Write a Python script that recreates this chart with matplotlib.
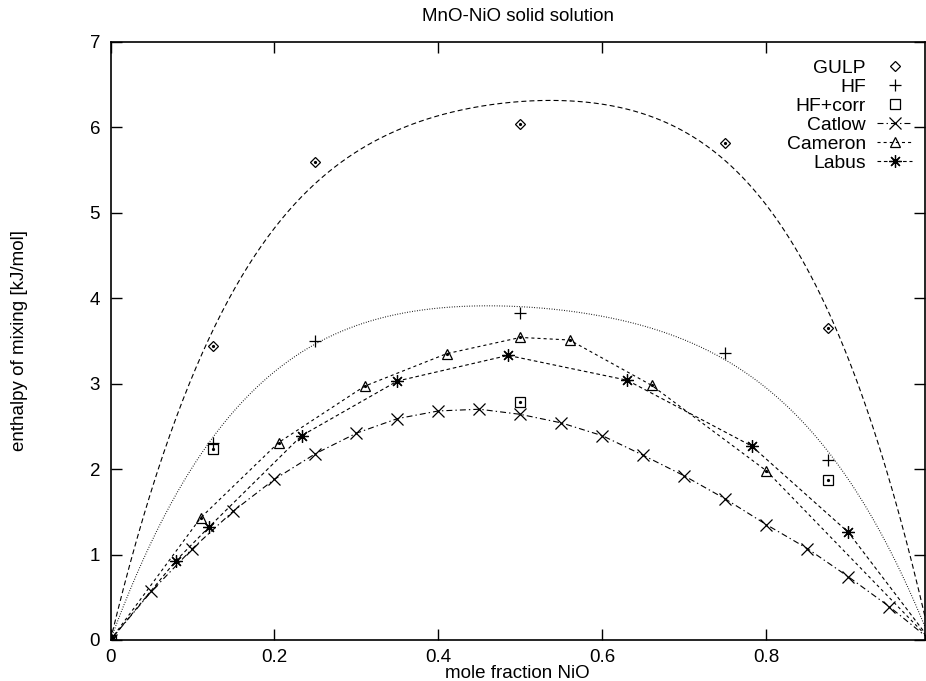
import numpy as np
import matplotlib
matplotlib.use("Agg")
import matplotlib.pyplot as plt

plt.rcParams["font.family"] = ["Liberation Sans", "DejaVu Sans"]
plt.rcParams["lines.scale_dashes"] = False

# Calculated enthalpies of mixing (kJ/mol) vs mole fraction NiO
gulp_x = [0.0, 0.125, 0.25, 0.5, 0.75, 0.875, 1.0]
gulp_y = [0.0, 3.44, 5.59, 6.04, 5.81, 3.65, 0.0]

hf_x = [0.0, 0.125, 0.25, 0.5, 0.75, 0.875, 1.0]
hf_y = [0.0, 2.30, 3.50, 3.83, 3.36, 2.11, 0.0]

hfcorr_x = [0.0, 0.125, 0.5, 0.875, 1.0]
hfcorr_y = [0.0, 2.23, 2.78, 1.87, 0.0]

catlow_x = [0.0, 0.05, 0.10, 0.15, 0.20, 0.25, 0.30, 0.35, 0.40, 0.45, 0.50,
            0.55, 0.60, 0.65, 0.70, 0.75, 0.80, 0.85, 0.90, 0.95, 1.0]
catlow_y = [0.0, 0.57, 1.07, 1.51, 1.88, 2.18, 2.42, 2.59, 2.68, 2.70, 2.64,
            2.54, 2.39, 2.16, 1.92, 1.65, 1.35, 1.07, 0.74, 0.39, 0.0]

cameron_x = [0.0, 0.11, 0.205, 0.31, 0.41, 0.50, 0.56, 0.66, 0.80, 1.0]
cameron_y = [0.0, 1.43, 2.31, 2.97, 3.35, 3.54, 3.51, 2.98, 1.98, 0.0]

labus_x = [0.0, 0.08, 0.12, 0.233, 0.35, 0.485, 0.63, 0.782, 0.90, 1.0]
labus_y = [0.0, 0.93, 1.32, 2.39, 3.03, 3.33, 3.04, 2.27, 1.26, 0.0]

# Redlich-Kister fit parameters (kJ/mol): H = x(1-x)[A + B(1-2x) + C(1-2x)^2]
gulp_fit = (25.2, -1.4, 16.0)
hf_fit = (15.6, 1.0, 9.5)


def redlich_kister(x, coeffs):
    a, b, c = coeffs
    t = 1.0 - 2.0 * x
    return x * (1.0 - x) * (a + b * t + c * t * t)


fig = plt.figure(figsize=(9.26, 6.81), dpi=100)
ax = fig.add_axes([110.5 / 926, 1 - 640 / 681, (925 - 110.5) / 926, (640 - 41.7) / 681])

xf = np.linspace(0.0, 1.0, 500)
lw = 0.8
ax.plot(xf, redlich_kister(xf, gulp_fit), color="black", lw=lw, dashes=(3.6, 2.2))
ax.plot(xf, redlich_kister(xf, hf_fit), color="black", lw=lw, dashes=(0.6, 1.2))

ax.plot(gulp_x, gulp_y, ls="none", marker="D", ms=5, mfc="none", mec="black",
        mew=0.9, label="GULP")
ax.plot(hf_x, hf_y, ls="none", marker="+", ms=8, mec="black", mew=0.9, label="HF")
ax.plot(hfcorr_x, hfcorr_y, ls="none", marker="s", ms=7, mfc="none", mec="black",
        mew=0.9, label="HF+corr")
ax.plot(catlow_x, catlow_y, color="black", lw=lw, dashes=(4.3, 2.2, 1.0, 2.2),
        marker="x", ms=8, mew=0.9, label="Catlow")
ax.plot(cameron_x, cameron_y, color="black", lw=lw, dashes=(2.2, 2.2),
        marker="^", ms=7, mfc="none", mec="black", mew=0.9, label="Cameron")
ax.plot(labus_x, labus_y, color="black", lw=lw, dashes=(2.6, 2.0),
        marker=(8, 2, 0), ms=9, mec="black", mew=0.9, label="Labus")

# centre dots inside the open point symbols
for xs, ys in ((gulp_x, gulp_y), (hfcorr_x, hfcorr_y), (cameron_x, cameron_y), (labus_x, labus_y)):
    ax.plot(xs, ys, ls="none", marker="o", ms=1.3, color="black")

ax.set_xlim(0.0, 0.9935)
ax.set_ylim(0.0, 7.0)
ax.set_xticks([0.0, 0.2, 0.4, 0.6, 0.8])
ax.set_xticklabels(["0", "0.2", "0.4", "0.6", "0.8"])
ax.set_yticks(range(0, 8))
ax.tick_params(direction="in", length=8, width=1.0, top=True, right=True,
               labelsize=13.5, colors="black")
ax.tick_params(axis="y", pad=7.5)
ax.tick_params(axis="x", pad=6.5)
for s in ax.spines.values():
    s.set_linewidth(1.2)

ax.set_xlabel("mole fraction NiO", fontsize=13.5, labelpad=-1)
ax.set_ylabel("enthalpy of mixing [kJ/mol]", fontsize=13.5, labelpad=44)
ax.set_title("MnO-NiO solid solution", fontsize=13.5, pad=15)

leg = ax.legend(loc="upper right", bbox_to_anchor=(912 / 926, 1 - 59 / 681),
                bbox_transform=fig.transFigure, frameon=False, markerfirst=False,
                fontsize=13.9, labelspacing=0.08, handlelength=1.8, handletextpad=0.6,
                borderpad=0.0, borderaxespad=0.0, numpoints=1)
for col in leg._legend_handle_box.get_children():
    col.align = "right"

fig.savefig("out.png", dpi=100)
